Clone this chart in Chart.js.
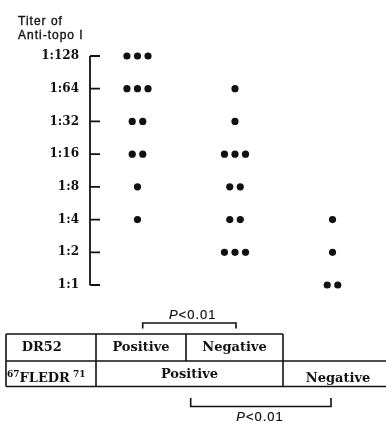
<!DOCTYPE html>
<html>
<head>
<meta charset="utf-8">
<script src="https://cdn.jsdelivr.net/npm/chart.js@4/dist/chart.umd.min.js"></script>
<style>
  html, body { margin: 0; padding: 0; background: #fff; }
  #wrap { position: relative; width: 386px; height: 425px; overflow: hidden; }
  #c { position: absolute; left: 0; top: 0; }
  .t { position: absolute; white-space: nowrap; color: #111; }
  .ser { font-family: "DejaVu Serif", serif; font-weight: bold; font-size: 13px; line-height: 16px; }
  .cen { width: 200px; text-align: center; }
  .pv { font-family: "Liberation Sans", sans-serif; font-size: 13px; line-height: 16px; letter-spacing: 1px; -webkit-text-stroke: 0.2px #111; }
  .ttl { font-family: "Liberation Sans", sans-serif; font-size: 12px; line-height: 14px; letter-spacing: 1px; left: 18px; -webkit-text-stroke: 0.35px #111; }
  svg { position: absolute; left: 0; top: 0; }
</style>
</head>
<body>
<div id="wrap">
  <canvas id="c" width="386" height="425"></canvas>
  <div class="t ttl" style="top:14px;">Titer of</div>
  <div class="t ttl" style="top:28px;">Anti-topo I</div>

  <svg width="386" height="425">
    <g stroke="#111" stroke-width="1.6" fill="none">
      <polyline points="142.7,328.5 142.7,323 236,323 236,328.5"/>
      <line x1="6" y1="334" x2="283" y2="334"/>
      <line x1="6" y1="361" x2="386" y2="361"/>
      <line x1="6" y1="386.5" x2="386" y2="386.5"/>
      <line x1="6" y1="334" x2="6" y2="386.5"/>
      <line x1="96" y1="334" x2="96" y2="386.5"/>
      <line x1="186" y1="334" x2="186" y2="361"/>
      <line x1="283" y1="334" x2="283" y2="386.5"/>
      <polyline points="190.7,398 190.7,406.5 331,406.5 331,398"/>
    </g>
  </svg>

  <div class="t pv cen" style="left:92.7px; top:307px;"><i>P</i>&lt;0.01</div>
  <div class="t ser" style="left:21.7px; top:339px;">DR52</div>
  <div class="t ser cen" style="left:41px; top:339px;">Positive</div>
  <div class="t ser cen" style="left:134.5px; top:339px;">Negative</div>
  <div class="t ser" style="left:7px; top:366px;"><span style="font-size:9px; vertical-align:5px;">67</span>FLEDR<span style="font-size:9px; vertical-align:5px;"> 71</span></div>
  <div class="t ser cen" style="left:89.5px; top:366px;">Positive</div>
  <div class="t ser cen" style="left:238px; top:370px;">Negative</div>
  <div class="t pv cen" style="left:160px; top:409px;"><i>P</i>&lt;0.01</div>
</div>

<script>
// Titer categories, from lowest to highest (y index 0..7)
const titerLabels = ["1:1", "1:2", "1:4", "1:8", "1:16", "1:32", "1:64", "1:128"];
// Groups along the x axis
const groups = ["DR52+ / FLEDR+", "DR52- / FLEDR+", "FLEDR-"];
// Number of patients at each titer (same order as titerLabels)
const countsGroup1 = [0, 0, 1, 1, 2, 2, 3, 3];
const countsGroup2 = [0, 3, 2, 2, 3, 1, 1, 0];
const countsGroup3 = [2, 1, 1, 0, 0, 0, 0, 0];

const allCounts = [countsGroup1, countsGroup2, countsGroup3];
const dotStep = 0.108;

const points = [];
allCounts.forEach((counts, g) => {
  counts.forEach((n, t) => {
    for (let k = 0; k < n; k++) {
      points.push({ x: (g + 1) + (k - (n - 1) / 2) * dotStep, y: t });
    }
  });
});

const axisPlugin = {
  id: 'insideAxis',
  afterDraw(chart) {
    const ctx = chart.ctx;
    const ys = chart.scales.y;
    const x0 = chart.chartArea.left;
    const top = ys.getPixelForValue(titerLabels.length - 1);
    const bottom = ys.getPixelForValue(0);
    ctx.save();
    ctx.strokeStyle = '#111';
    ctx.lineWidth = 1.8;
    ctx.beginPath();
    ctx.moveTo(x0, top);
    ctx.lineTo(x0, bottom);
    titerLabels.forEach((_, i) => {
      const y = ys.getPixelForValue(i);
      ctx.moveTo(x0, y);
      ctx.lineTo(x0 + 10, y);
    });
    ctx.stroke();
    ctx.restore();
  }
};

new Chart(document.getElementById('c'), {
  type: 'scatter',
  data: {
    datasets: [{
      label: 'Titer',
      data: points,
      backgroundColor: '#111',
      borderColor: '#111',
      pointRadius: 3.6,
      pointHoverRadius: 3.6,
      borderWidth: 0,
      clip: false
    }]
  },
  options: {
    responsive: false,
    animation: false,
    events: [],
    layout: { padding: { top: 56, bottom: 140, left: 0, right: 6 } },
    plugins: { legend: { display: false }, tooltip: { enabled: false } },
    scales: {
      x: { type: 'linear', min: 0.513, max: 3.487, display: false },
      y: {
        type: 'linear', min: 0, max: titerLabels.length - 1,
        afterFit(scale) { scale.width = 90; },
        grid: { display: false },
        border: { display: false },
        ticks: {
          stepSize: 1,
          padding: 3,
          color: '#111',
          font: { family: 'DejaVu Serif', size: 12, weight: 'bold' },
          callback: (v) => titerLabels[v]
        }
      }
    }
  },
  plugins: [axisPlugin]
});
</script>
</body>
</html>
